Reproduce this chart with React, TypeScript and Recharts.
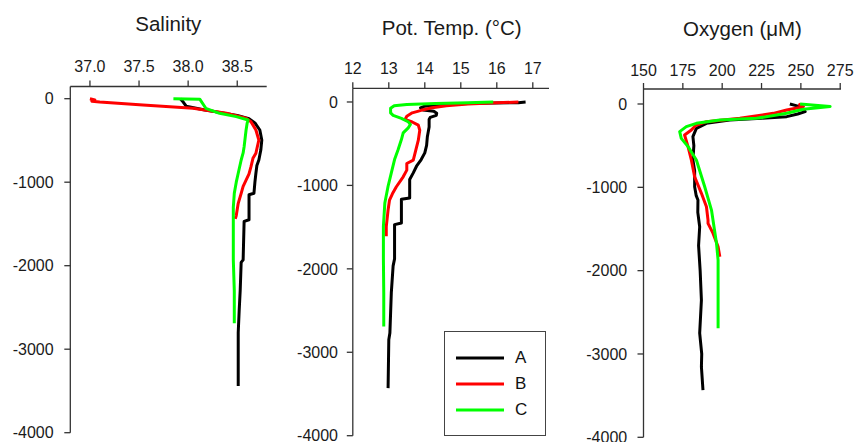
import React from 'react';
import { LineChart, Line, XAxis, YAxis, Legend } from 'recharts';

const FONT = '"Liberation Sans", Arial, Helvetica, sans-serif';

const seriesNames = ['A', 'B', 'C'];
const seriesColors = ['#000000', '#ff0000', '#00ff00'];
const panelTitles = ['Salinity', 'Pot. Temp. (°C)', 'Oxygen (μM)'];
const depthTicks = [0, -1000, -2000, -3000, -4000];
const salinityTicks = [37.0, 37.5, 38.0, 38.5];
const tempTicks = [12, 13, 14, 15, 16, 17];
const oxygenTicks = [150, 175, 200, 225, 250, 275];

// [depth (m), value]
const salinityA = [
  [0, 37.92], [-40, 37.95], [-90, 37.98], [-135, 38.17], [-170, 38.35], [-200, 38.5], [-240, 38.62],
  [-290, 38.68], [-375, 38.73], [-495, 38.75], [-615, 38.74], [-735, 38.72], [-800, 38.7], [-893, 38.69],
  [-1000, 38.68], [-1133, 38.67], [-1150, 38.62], [-1450, 38.62], [-1470, 38.57], [-1930, 38.56],
  [-1960, 38.54], [-2300, 38.53], [-2530, 38.52], [-2800, 38.51], [-3440, 38.51],
];
const salinityB = [
  [0, 37.0], [-15, 37.05], [-30, 37.02], [-40, 37.1], [-75, 37.54], [-115, 38.05], [-175, 38.39],
  [-235, 38.59], [-275, 38.64], [-375, 38.69], [-495, 38.72], [-600, 38.7], [-654, 38.69], [-714, 38.66],
  [-814, 38.64], [-900, 38.62], [-974, 38.59], [-1050, 38.56], [-1133, 38.54], [-1253, 38.51],
  [-1400, 38.49], [-1440, 38.48],
];
const salinityC = [
  [0, 37.85], [-8, 38.12], [-115, 38.18], [-175, 38.32], [-215, 38.49], [-255, 38.61], [-300, 38.6],
  [-375, 38.59], [-475, 38.58], [-575, 38.57], [-650, 38.56], [-734, 38.54], [-893, 38.51],
  [-1000, 38.49], [-1133, 38.47], [-1300, 38.46], [-1453, 38.46], [-1932, 38.46], [-2300, 38.47],
  [-2690, 38.47],
];

const tempA = [
  [0, 16.8], [-8, 16.6], [-15, 15.5], [-25, 14.6], [-50, 14.0], [-70, 13.88], [-95, 13.95],
  [-110, 14.25], [-135, 14.33], [-160, 14.32], [-185, 14.15], [-210, 14.12], [-300, 14.12],
  [-420, 14.07], [-520, 14.05], [-610, 14.0], [-690, 13.9], [-770, 13.77], [-850, 13.68],
  [-930, 13.58], [-1150, 13.58], [-1165, 13.35], [-1450, 13.35], [-1470, 13.16], [-1880, 13.16],
  [-1965, 13.12], [-2285, 13.07], [-2770, 13.03], [-2850, 13.0], [-3430, 12.98],
];
const tempB = [
  [0, 16.6], [-10, 16.0], [-25, 15.2], [-45, 14.6], [-70, 14.2], [-100, 13.9], [-130, 13.65],
  [-170, 13.5], [-210, 13.45], [-240, 13.65], [-278, 13.82], [-339, 13.86], [-458, 13.82],
  [-578, 13.75], [-697, 13.68], [-737, 13.5], [-817, 13.5], [-897, 13.4], [-1016, 13.21],
  [-1100, 13.1], [-1175, 13.02], [-1295, 12.98], [-1494, 12.93], [-1610, 12.93],
];
const tempC = [
  [0, 15.9], [-8, 15.2], [-18, 14.3], [-30, 13.5], [-45, 13.15], [-76, 13.05], [-131, 13.05],
  [-160, 13.12], [-196, 13.35], [-240, 13.55], [-270, 13.6], [-310, 13.54], [-370, 13.4],
  [-450, 13.35], [-570, 13.26], [-690, 13.16], [-850, 13.07], [-1010, 12.98], [-1210, 12.89],
  [-1490, 12.85], [-1880, 12.85], [-2300, 12.86], [-2690, 12.86],
];

const oxygenA = [
  [0, 243], [-20, 247], [-40, 250], [-92, 252.7], [-120, 248], [-152, 241], [-170, 225],
  [-192, 204.8], [-232, 190], [-292, 183.6], [-392, 181.4], [-500, 182], [-672, 181.4],
  [-800, 182.5], [-993, 182.5], [-1100, 183.5], [-1152, 184.6], [-1300, 184.5], [-1473, 185.7],
  [-1700, 185], [-2000, 186], [-2353, 186.8], [-2750, 185.7], [-3000, 187], [-3155, 186.8],
  [-3433, 187.8],
];
const oxygenB = [
  [0, 248.4], [-32, 251.6], [-72, 241], [-112, 232.5], [-172, 211.2], [-212, 190], [-260, 183],
  [-312, 180.4], [-372, 176.1], [-512, 178.3], [-672, 180.4], [-873, 182.5], [-1072, 186.8],
  [-1233, 190], [-1393, 191], [-1433, 191], [-1553, 194.2], [-1713, 197.4], [-1833, 198.5],
];
const oxygenC = [
  [0, 249.5], [-30, 268.6], [-64, 251.6], [-112, 241], [-172, 221.9], [-192, 198.5], [-232, 183.6],
  [-272, 177.2], [-332, 173], [-412, 174], [-512, 178.3], [-672, 183.6], [-993, 188.9],
  [-1273, 193.2], [-1673, 196.4], [-1873, 197.4], [-2673, 197.4], [-2690, 197.4],
];

const toPoints = (rows: number[][]) => rows.map(([d, v]) => ({ d, v }));

const AXIS_COLOR = '#333333';
const TICK_STYLE = { fontSize: 16, fill: '#1a1a1a', fontFamily: FONT };

const renderLegend = (props: any) => {
  const payload = props.payload || [];
  return (
    <div
      style={{
        width: 102,
        height: 105,
        boxSizing: 'border-box',
        border: '1.5px solid #444',
        background: '#fff',
        paddingTop: 13,
        fontFamily: FONT,
      }}
    >
      {payload.map((p: any, i: number) => (
        <div key={i} style={{ display: 'flex', alignItems: 'center', height: 26 }}>
          <svg width={59} height={6} style={{ display: 'block' }}>
            <line x1={11} x2={59} y1={3} y2={3} stroke={p.color} strokeWidth={3} />
          </svg>
          <span style={{ marginLeft: 11, fontSize: 17, color: '#111', lineHeight: '26px' }}>{p.value}</span>
        </div>
      ))}
    </div>
  );
};

type PanelProps = {
  left: number;
  width: number;
  axisX: number;
  axisTop: number;
  plotBottom: number;
  plotRight: number;
  xDomain: number[];
  xTicks: number[];
  xFmt?: (v: number) => string;
  yTop: number;
  yTickMargin: number;
  xTickMargin: number;
  series: number[][][];
  legend?: boolean;
};

function Panel(p: PanelProps) {
  const YW = 60;
  const XH = 40;
  const margin = {
    top: p.axisTop - XH,
    left: p.axisX - p.left - YW,
    right: p.left + p.width - p.plotRight,
    bottom: 442 - p.plotBottom,
  };
  return (
    <div style={{ position: 'absolute', left: p.left, top: 0, width: p.width, height: 442 }}>
      <LineChart width={p.width} height={442} margin={margin} style={{ fontFamily: FONT }}>
        <XAxis
          type="number"
          dataKey="v"
          orientation="top"
          domain={p.xDomain}
          ticks={p.xTicks}
          interval={0}
          allowDataOverflow
          height={XH}
          tickFormatter={p.xFmt}
          tick={TICK_STYLE}
          tickSize={6}
          tickMargin={p.xTickMargin}
          axisLine={{ stroke: AXIS_COLOR, strokeWidth: 1.3 }}
          tickLine={{ stroke: AXIS_COLOR, strokeWidth: 1.3 }}
        />
        <YAxis
          type="number"
          domain={[-4000, p.yTop]}
          ticks={depthTicks}
          interval={0}
          allowDataOverflow
          width={YW}
          tick={TICK_STYLE}
          tickSize={6}
          tickMargin={p.yTickMargin}
          axisLine={{ stroke: AXIS_COLOR, strokeWidth: 1.3 }}
          tickLine={{ stroke: AXIS_COLOR, strokeWidth: 1.3 }}
        />
        {p.series.map((s, i) => (
          <Line
            key={seriesNames[i]}
            data={toPoints(s)}
            dataKey="d"
            name={seriesNames[i]}
            stroke={seriesColors[i]}
            strokeWidth={3}
            strokeLinejoin="round"
            dot={false}
            activeDot={false}
            type="linear"
            isAnimationActive={false}
          />
        ))}
        {p.legend && (
          <Legend
            layout="vertical"
            align="center"
            verticalAlign="middle"
            content={renderLegend}
            wrapperStyle={{ left: 444 - p.left, top: 331, width: 102, height: 105 }}
          />
        )}
      </LineChart>
    </div>
  );
}

const TITLE_SIZE = 20.5;
function Title({ text, cx, baseline }: { text: string; cx: number; baseline: number }) {
  return (
    <div
      style={{
        position: 'absolute',
        left: cx - 120,
        width: 240,
        top: baseline - 0.8465 * TITLE_SIZE,
        fontSize: TITLE_SIZE,
        lineHeight: `${TITLE_SIZE}px`,
        textAlign: 'center',
        fontFamily: FONT,
        color: '#1a1a1a',
        whiteSpace: 'nowrap',
      }}
    >
      {text}
    </div>
  );
}

export default function App() {
  return (
    <div style={{ position: 'absolute', left: 0, top: 0, width: 854, height: 442, background: '#fff', overflow: 'hidden' }}>
      <Panel
        left={0}
        width={285}
        axisX={70.3}
        axisTop={86.5}
        plotBottom={432.7}
        plotRight={266.7}
        xDomain={[36.8, 38.8]}
        xTicks={salinityTicks}
        xFmt={(v: number) => v.toFixed(1)}
        yTop={146}
        yTickMargin={10.7}
        xTickMargin={8.5}
        series={[salinityA, salinityB, salinityC]}
      />
      <Panel
        left={285}
        width={285}
        axisX={352.8}
        axisTop={88.3}
        plotBottom={435.7}
        plotRight={549}
        xDomain={[12, 17.45]}
        xTicks={tempTicks}
        yTop={164}
        yTickMargin={8.8}
        xTickMargin={8.3}
        series={[tempA, tempB, tempC]}
        legend
      />
      <Panel
        left={570}
        width={284}
        axisX={643.5}
        axisTop={89}
        plotBottom={437.3}
        plotRight={841}
        xDomain={[150, 275.5]}
        xTicks={oxygenTicks}
        yTop={180}
        yTickMargin={10.3}
        xTickMargin={7}
        series={[oxygenA, oxygenB, oxygenC]}
      />
      <Title text={panelTitles[0]} cx={168.3} baseline={31} />
      <Title text={panelTitles[1]} cx={451.7} baseline={35} />
      <Title text={panelTitles[2]} cx={742.5} baseline={36.7} />
    </div>
  );
}
